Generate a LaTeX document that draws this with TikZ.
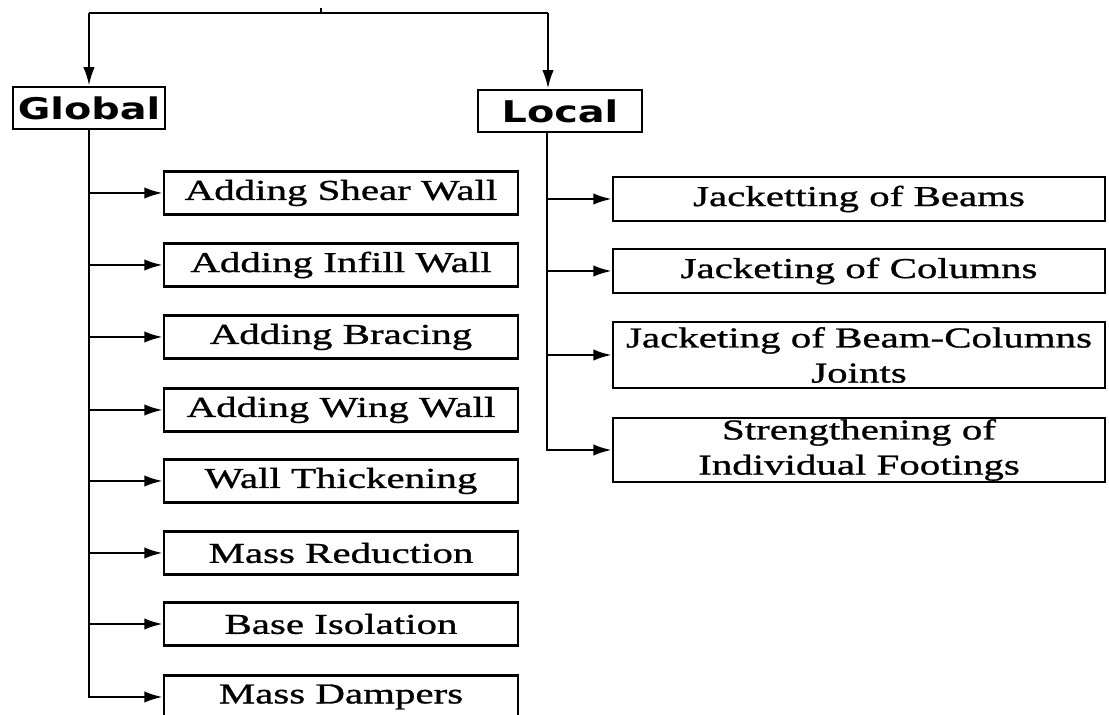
\documentclass[tikz,border=0pt]{standalone}
\usepackage{fontspec}
\setmainfont{Liberation Serif}[FakeStretch=1.42,FakeBold=1.0]
\newfontfamily\headfont{DejaVu Sans}[FakeStretch=1.33]
\usetikzlibrary{arrows.meta}

\tikzset{
  arr/.style={-{Latex[length=10.5pt,width=6.5pt]}},
  headbox/.style={draw, line width=1.5pt, inner sep=0pt,
    font=\headfont\bfseries\fontsize{17}{19}\selectfont},
  gbox/.style={draw, inner sep=0pt, minimum width=7.08cm, minimum height=0.86cm,
    font=\fontsize{16.4}{20}\selectfont},
  lbox/.style={draw, inner sep=0pt, minimum width=9.84cm, align=center,
    font=\fontsize{16.4}{20}\selectfont}
}

\begin{document}
\begin{tikzpicture}[x=0.02cm, y=-0.02cm, line width=1.4pt]

  \useasboundingbox (0,0) rectangle (1109,715);

  %heads
  \node[headbox, minimum width=3.04cm, minimum height=0.84cm] (Global) at (89,108) {Global};
  \node[headbox, minimum width=3.28cm, minimum height=0.84cm] (Local) at (560,111) {Local};

  \coordinate (stem) at (321,13);
  \coordinate (gtop) at (89,13);
  \coordinate (ltop) at (548,13);
  \coordinate (lsp) at (547,132);

  \draw (stem) -- ++(0,-5);
  \draw (gtop) -- (ltop);
  \draw[arr] (gtop) -- (Global.north);
  \draw[arr] (ltop) -- (ltop |- Local.north);

  %global measures
  \foreach \y/\txt/\name in {193/Adding Shear Wall/g1, 265/Adding Infill Wall/g2,
      337/Adding Bracing/g3, 410/Adding Wing Wall/g4, 481/Wall Thickening/g5,
      553/Mass Reduction/g6, 624/Base Isolation/g7, 697/Mass Dampers/g8}{
    \node[gbox] (\name) at (341,\y) {\txt};
    \draw[arr] (Global.south) |- (\name.west);
  }

  %local measures
  \foreach \y/\h/\txt/\name in {199/0.88/Jacketting of Beams/l1,
      271/0.88/Jacketing of Columns/l2,
      355/1.32/{Jacketing of Beam-Columns\\Joints}/l3,
      450/1.28/{Strengthening of\\Individual Footings}/l4}{
    \node[lbox, minimum height=\h cm] (\name) at (859,\y) {\txt};
    \draw[arr] (lsp) |- (\name.west);
  }

\end{tikzpicture}
\end{document}
